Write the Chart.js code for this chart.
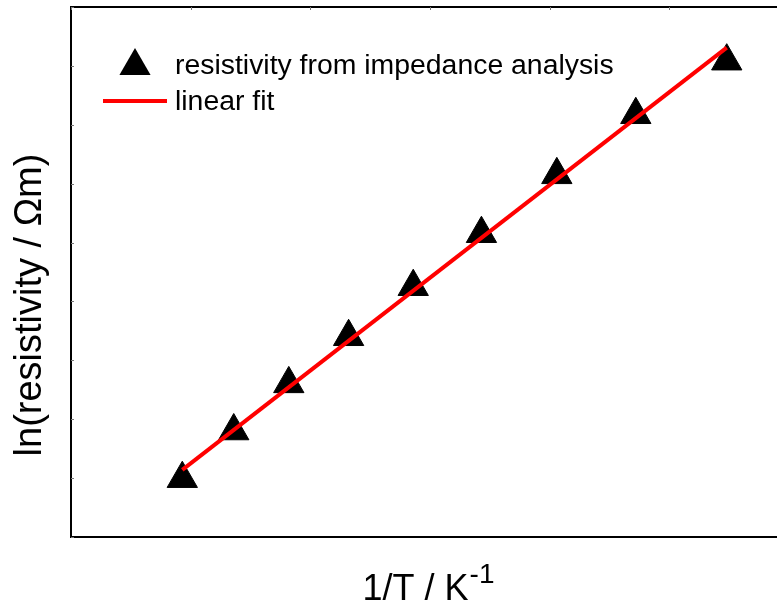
<!DOCTYPE html>
<html>
<head>
<meta charset="utf-8">
<script src="https://cdn.jsdelivr.net/npm/chart.js@4.4.1/dist/chart.umd.min.js"></script>
<style>
  html, body { margin: 0; padding: 0; background: #fff; overflow: hidden; }
  canvas { display: block; }
</style>
</head>
<body>
<canvas id="myChart" width="777" height="605"></canvas>
<script>
  // 1/T values (arbitrary 10^-3 K^-1 units, no tick labels in the original)
  const invT = [1.093, 1.136, 1.182, 1.232, 1.286, 1.343, 1.406, 1.472, 1.548]
  // ln(resistivity)
  const lnRho = [2.99, 3.80, 4.60, 5.40, 6.25, 7.15, 8.15, 9.17, 10.08]
  // linear fit end points
  const fitX = [1.093, 1.548]
  const fitY = [3.14, 10.31]

  const legendLabels = ['resistivity from impedance analysis', 'linear fit']
  const xTitle = '1/T / K'
  const xTitleSup = '-1'
  const yTitle = 'ln(resistivity / Ωm)'

  const FONT = "'Liberation Sans', Arial, sans-serif"

  const framePlugin = {
    id: 'frame',
    afterDraw(chart) {
      const ctx = chart.ctx
      const area = chart.chartArea
      const xs = chart.scales.x
      const ys = chart.scales.y
      ctx.save()
      // top border
      ctx.strokeStyle = '#000'
      ctx.lineWidth = 2
      ctx.beginPath()
      ctx.moveTo(area.left - 1, area.top)
      ctx.lineTo(area.right, area.top)
      ctx.stroke()
      // small inward ticks
      ctx.strokeStyle = '#777'
      ctx.lineWidth = 1
      ys.ticks.forEach(t => {
        const p = Math.round(ys.getPixelForValue(t.value)) + 0.5
        ctx.beginPath()
        ctx.moveTo(area.left, p)
        ctx.lineTo(area.left + 3, p)
        ctx.stroke()
      })
      xs.ticks.forEach(t => {
        const p = Math.round(xs.getPixelForValue(t.value)) + 0.5
        ctx.beginPath()
        ctx.moveTo(p, area.top)
        ctx.lineTo(p, area.top + 3)
        ctx.stroke()
      })

      // legend
      ctx.fillStyle = '#000'
      ctx.beginPath()
      const cx = 135, cy = 66, r = 18
      ctx.moveTo(cx, cy - r)
      ctx.lineTo(cx + r * Math.sin(Math.PI * 2 / 3), cy + r / 2)
      ctx.lineTo(cx - r * Math.sin(Math.PI * 2 / 3), cy + r / 2)
      ctx.closePath()
      ctx.fill()
      ctx.strokeStyle = '#ff0000'
      ctx.lineWidth = 4
      ctx.beginPath()
      ctx.moveTo(103, 101)
      ctx.lineTo(167, 101)
      ctx.stroke()
      ctx.fillStyle = '#000'
      ctx.font = '28.4px ' + FONT
      ctx.textBaseline = 'alphabetic'
      ctx.textAlign = 'left'
      ctx.fillText(legendLabels[0], 175, 74)
      ctx.fillText(legendLabels[1], 175, 110)

      // x axis title with superscript
      ctx.font = '36px ' + FONT
      const w1 = ctx.measureText(xTitle).width
      ctx.font = '28px ' + FONT
      const w2 = ctx.measureText(xTitleSup).width
      const x0 = 428 - (w1 + w2) / 2
      ctx.font = '36px ' + FONT
      ctx.fillText(xTitle, x0, 600)
      ctx.font = '28px ' + FONT
      ctx.fillText(xTitleSup, x0 + w1 + 1, 583)

      // y axis title
      ctx.translate(31, 305)
      ctx.rotate(-Math.PI / 2)
      ctx.font = '38px ' + FONT
      ctx.textAlign = 'center'
      ctx.textBaseline = 'middle'
      ctx.fillText(yTitle, 0, 0)
      ctx.restore()
    }
  }

  const ctx = document.getElementById('myChart')
  // eslint-disable-next-line no-unused-vars
  const myChart = new Chart(ctx, {
    type: 'scatter',
    data: {
      datasets: [{
        label: legendLabels[1],
        data: fitX.map((x, i) => ({ x, y: fitY[i] })),
        showLine: true,
        borderColor: '#ff0000',
        backgroundColor: '#ff0000',
        borderWidth: 4,
        pointRadius: 0,
        order: 0
      }, {
        label: legendLabels[0],
        data: invT.map((x, i) => ({ x, y: lnRho[i] })),
        pointStyle: 'triangle',
        pointRadius: 17.5,
        pointBackgroundColor: '#000',
        pointBorderColor: '#000',
        pointBorderWidth: 1,
        order: 1
      }]
    },
    options: {
      responsive: false,
      animation: false,
      layout: { autoPadding: false, padding: { left: 71, right: 0, top: 7, bottom: 68 } },
      scales: {
        x: {
          type: 'linear',
          min: 1.0,
          max: 1.59,
          ticks: { display: false, stepSize: 0.1 },
          grid: { display: false, drawTicks: false },
          border: { display: true, color: '#000', width: 2 }
        },
        y: {
          type: 'linear',
          min: 2,
          max: 11,
          ticks: { display: false, stepSize: 1 },
          grid: { display: false, drawTicks: false },
          border: { display: true, color: '#000', width: 2 }
        }
      },
      plugins: {
        legend: { display: false },
        tooltip: { enabled: false }
      }
    },
    plugins: [framePlugin]
  })
</script>
</body>
</html>
